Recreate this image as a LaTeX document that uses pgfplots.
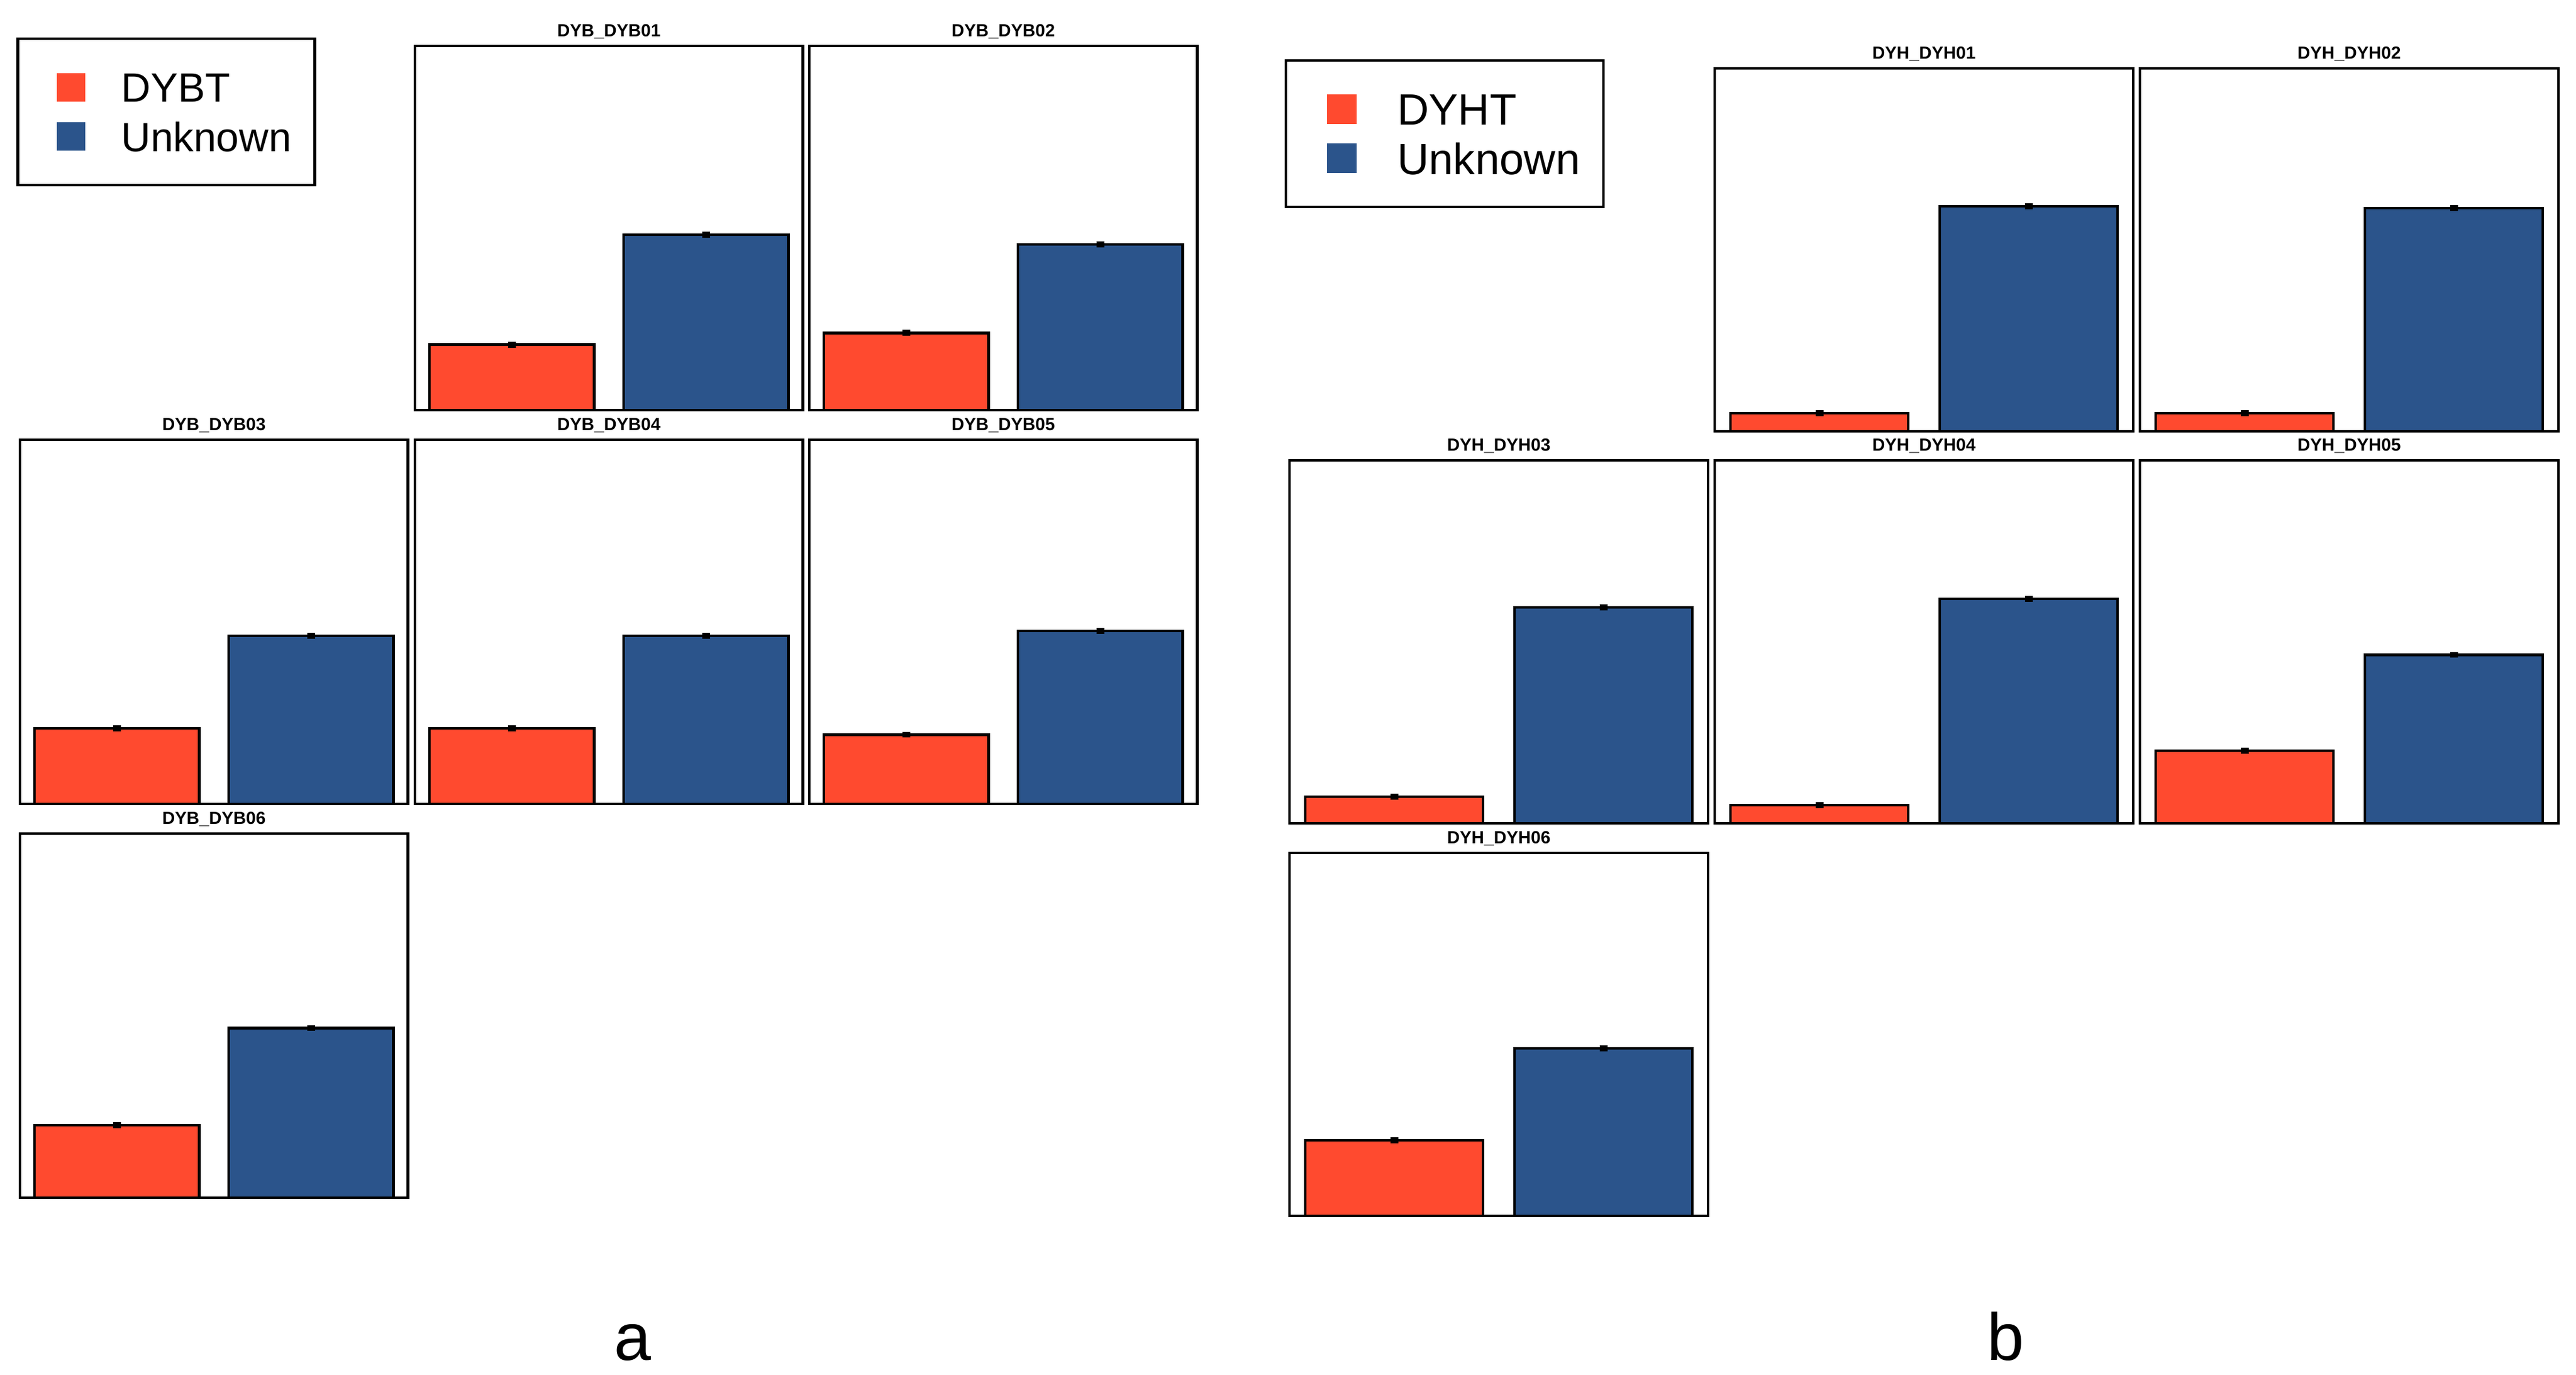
\documentclass[border=0pt]{standalone}
\usepackage{pgfplots}
\pgfplotsset{compat=1.18}
\usepackage{fontspec}
\setmainfont{Liberation Sans}

\definecolor{barred}{RGB}{255,74,47}
\definecolor{barblue}{RGB}{43,84,139}

\pgfplotsset{
  every axis title shift=0pt,
  panel/.style={
    scale only axis,
    anchor=south west,
    xmin=0.5, xmax=2.5, ymin=0, ymax=1,
    xtick=\empty, ytick=\empty,
    axis line style={line width=0.9pt},
    title style={at={(0.5,1)}, anchor=base, yshift=3pt,
      font=\bfseries\fontsize{5.8}{7}\selectfont},
  },
  bar/.style={
    ybar, bar width=0.85, bar shift=0pt, draw=black, line width=0.9pt,
    error bars/y dir=both, error bars/y explicit,
    error bars/error bar style={line width=1pt, black},
    error bars/error mark options={rotate=90, mark size=1.3pt, line width=1pt, black},
  },
  keyboxa/.style={
    legend cell align=left,
    legend style={anchor=north west, draw=black, line width=0.9pt,
      inner xsep=5.7pt, inner ysep=9.2pt, row sep=2.6pt,
      font=\fontsize{13.5}{15}\selectfont,
      nodes={inner sep=2pt, text height=9.7pt, text depth=0pt}},
    legend image code/.code={
      \fill[##1, draw=none] (6.8pt,-4.7pt) rectangle (16.1pt,4.7pt);
      \path (0pt,0pt) (25.6pt,0pt);
    },
  },
  keyboxb/.style={
    legend cell align=left,
    legend style={anchor=north west, draw=black, line width=0.9pt,
      inner xsep=5.7pt, inner ysep=8.8pt, row sep=1.8pt,
      font=\fontsize{14.5}{16}\selectfont,
      nodes={inner sep=2pt, text height=10.5pt, text depth=0pt}},
    legend image code/.code={
      \fill[##1, draw=none] (7.3pt,-4.9pt) rectangle (17.1pt,4.9pt);
      \path (0pt,0pt) (28.2pt,0pt);
    },
  },
}

\begin{document}
\begin{tikzpicture}
\useasboundingbox (0,0) rectangle (851.8pt,454.6pt);

% ---- panel a ----
\begin{axis}[panel, at={(137.2pt,319pt)}, width=128.3pt, height=120.4pt,
  title={DYB\_DYB01}, keyboxa, legend style={at={(-1.027,1.0233)}}]
\addplot[bar, fill=barred] coordinates {(1,0.180) +- (0,0.004)};
\addlegendentry{DYBT}
\addplot[bar, fill=barblue] coordinates {(2,0.482) +- (0,0.004)};
\addlegendentry{Unknown}
\end{axis}

\begin{axis}[panel, at={(267.6pt,319pt)}, width=128.3pt, height=120.4pt,
  title={DYB\_DYB02}]
\addplot[bar, fill=barred] coordinates {(1,0.212) +- (0,0.004)};
\addplot[bar, fill=barblue] coordinates {(2,0.455) +- (0,0.004)};
\end{axis}

\begin{axis}[panel, at={(6.6pt,188.8pt)}, width=128.3pt, height=120.4pt,
  title={DYB\_DYB03}]
\addplot[bar, fill=barred] coordinates {(1,0.208) +- (0,0.004)};
\addplot[bar, fill=barblue] coordinates {(2,0.462) +- (0,0.004)};
\end{axis}

\begin{axis}[panel, at={(137.2pt,188.8pt)}, width=128.3pt, height=120.4pt,
  title={DYB\_DYB04}]
\addplot[bar, fill=barred] coordinates {(1,0.208) +- (0,0.004)};
\addplot[bar, fill=barblue] coordinates {(2,0.462) +- (0,0.004)};
\end{axis}

\begin{axis}[panel, at={(267.6pt,188.8pt)}, width=128.3pt, height=120.4pt,
  title={DYB\_DYB05}]
\addplot[bar, fill=barred] coordinates {(1,0.190) +- (0,0.004)};
\addplot[bar, fill=barblue] coordinates {(2,0.475) +- (0,0.004)};
\end{axis}

\begin{axis}[panel, at={(6.6pt,58.6pt)}, width=128.3pt, height=120.4pt,
  title={DYB\_DYB06}]
\addplot[bar, fill=barred] coordinates {(1,0.199) +- (0,0.004)};
\addplot[bar, fill=barblue] coordinates {(2,0.466) +- (0,0.004)};
\end{axis}

% ---- panel b ----
\begin{axis}[panel, at={(567pt,312pt)}, width=138.4pt, height=120pt,
  title={DYH\_DYH01}, keyboxb, legend style={at={(-1.0275,1.025)}}]
\addplot[bar, fill=barred] coordinates {(1,0.050) +- (0,0.004)};
\addlegendentry{DYHT}
\addplot[bar, fill=barblue] coordinates {(2,0.620) +- (0,0.004)};
\addlegendentry{Unknown}
\end{axis}

\begin{axis}[panel, at={(707.6pt,312pt)}, width=138.4pt, height=120pt,
  title={DYH\_DYH02}]
\addplot[bar, fill=barred] coordinates {(1,0.050) +- (0,0.004)};
\addplot[bar, fill=barblue] coordinates {(2,0.615) +- (0,0.004)};
\end{axis}

\begin{axis}[panel, at={(426.4pt,182.4pt)}, width=138.4pt, height=120pt,
  title={DYH\_DYH03}]
\addplot[bar, fill=barred] coordinates {(1,0.073) +- (0,0.004)};
\addplot[bar, fill=barblue] coordinates {(2,0.595) +- (0,0.004)};
\end{axis}

\begin{axis}[panel, at={(567pt,182.4pt)}, width=138.4pt, height=120pt,
  title={DYH\_DYH04}]
\addplot[bar, fill=barred] coordinates {(1,0.050) +- (0,0.004)};
\addplot[bar, fill=barblue] coordinates {(2,0.618) +- (0,0.004)};
\end{axis}

\begin{axis}[panel, at={(707.6pt,182.4pt)}, width=138.4pt, height=120pt,
  title={DYH\_DYH05}]
\addplot[bar, fill=barred] coordinates {(1,0.200) +- (0,0.004)};
\addplot[bar, fill=barblue] coordinates {(2,0.464) +- (0,0.004)};
\end{axis}

\begin{axis}[panel, at={(426.4pt,52.6pt)}, width=138.4pt, height=120pt,
  title={DYH\_DYH06}]
\addplot[bar, fill=barred] coordinates {(1,0.208) +- (0,0.004)};
\addplot[bar, fill=barblue] coordinates {(2,0.462) +- (0,0.004)};
\end{axis}

\node[anchor=base, font=\fontsize{22}{26}\selectfont] at (209.2pt,4.8pt) {a};
\node[anchor=base, font=\fontsize{22}{26}\selectfont] at (663.2pt,4.8pt) {b};
\end{tikzpicture}
\end{document}
